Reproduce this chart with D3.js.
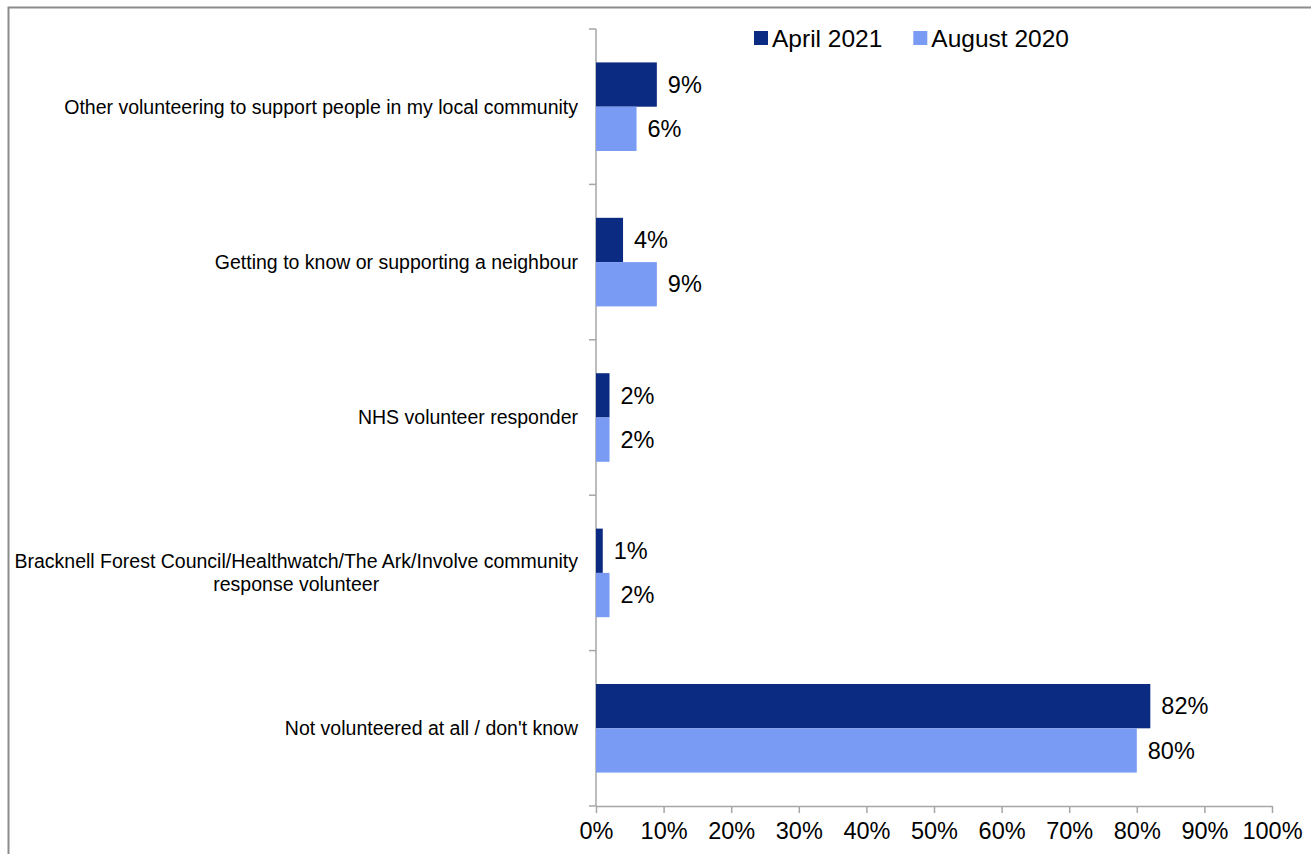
<!DOCTYPE html>
<html>
<head>
<meta charset="utf-8">
<script src="https://cdn.jsdelivr.net/npm/d3@7"></script>
<style>
  html, body { margin: 0; padding: 0; background: #fff; }
  svg { display: block; font-family: "Liberation Sans", Arial, sans-serif; }
</style>
</head>
<body>
<svg id="chart" width="1311" height="854"></svg>
<script>
// Survey responses: type of volunteering done
const categories = [
  ["Other volunteering to support people in my local community"],
  ["Getting to know or supporting a neighbour"],
  ["NHS volunteer responder"],
  ["Bracknell Forest Council/Healthwatch/The Ark/Involve community", "response volunteer"],
  ["Not volunteered at all / don't know"]
];
const seriesNames = ["April 2021", "August 2020"];
const april2021 = [9, 4, 2, 1, 82];
const august2020 = [6, 9, 2, 2, 80];
const xTicks = [0, 10, 20, 30, 40, 50, 60, 70, 80, 90, 100];
const colors = ["#0b2a82", "#7a9bf3"];

const svg = d3.select("#chart");
const plotLeft = 596, plotRight = 1272, plotTop = 29, plotBottom = 806;
const bigFont = 23.5, labelFont = 19.5, legendFont = 24.5;

// outer frame
svg.append("rect")
  .attr("x", 8.5).attr("y", 7.5)
  .attr("width", 1320).attr("height", 880)
  .attr("fill", "none").attr("stroke", "#8c8c8c").attr("stroke-width", 2);

const x = d3.scaleLinear().domain([0, 100]).range([plotLeft, plotRight]);
const y = d3.scaleBand().domain(d3.range(categories.length)).range([plotTop, plotBottom])
  .paddingInner(0.43).paddingOuter(0.215);
const ySub = d3.scaleBand().domain(d3.range(seriesNames.length)).range([0, y.bandwidth()]);

// x axis
const xAxis = svg.append("g").attr("transform", `translate(0,${plotBottom})`)
  .call(d3.axisBottom(x).tickValues(xTicks).tickFormat(d => d + "%").tickSize(7).tickSizeOuter(0).tickPadding(9));
xAxis.select(".domain").attr("stroke", "#a6a6a6").attr("stroke-width", 1.5);
xAxis.selectAll(".tick line").attr("stroke", "#a6a6a6").attr("stroke-width", 1.5);
xAxis.selectAll(".tick text").attr("font-size", bigFont).attr("fill", "#000")
  .attr("font-family", "'Liberation Sans', Arial, sans-serif");

// y axis: ticks at band boundaries
const step = y.step();
const boundaries = d3.range(categories.length + 1).map(i => plotTop + i * step);
svg.append("line").attr("x1", plotLeft).attr("x2", plotLeft).attr("y1", plotTop).attr("y2", plotBottom)
  .attr("stroke", "#a6a6a6").attr("stroke-width", 1.5);
svg.selectAll(".ytick").data(boundaries).join("line")
  .attr("class", "ytick")
  .attr("x1", plotLeft - 7).attr("x2", plotLeft).attr("y1", d => d).attr("y2", d => d)
  .attr("stroke", "#a6a6a6").attr("stroke-width", 1.5);

// category labels
const labelX = 578;
categories.forEach((lines, i) => {
  const cy = plotTop + (i + 0.5) * step;
  const t = svg.append("text")
    .attr("font-size", labelFont).attr("fill", "#000");
  if (lines.length === 1) {
    t.attr("x", labelX).attr("y", cy).attr("text-anchor", "end").attr("dy", "0.35em").text(lines[0]);
  } else {
    // two-line label: lines centred on each other, right edge aligned
    t.attr("text-anchor", "end").attr("x", labelX).attr("y", cy - 11.5).attr("dy", "0.35em").text(lines[0]);
    const w = t.node().getComputedTextLength();
    svg.append("text").attr("font-size", labelFont).attr("fill", "#000")
      .attr("text-anchor", "middle").attr("x", labelX - w / 2).attr("y", cy + 11.5)
      .attr("dy", "0.35em").text(lines[1]);
  }
});

// bars
const seriesData = [april2021, august2020];
seriesData.forEach((vals, s) => {
  const g = svg.append("g");
  g.selectAll("rect").data(vals).join("rect")
    .attr("x", x(0))
    .attr("y", (d, i) => y(i) + ySub(s))
    .attr("width", d => x(d) - x(0))
    .attr("height", ySub.bandwidth())
    .attr("fill", colors[s]);
  g.selectAll("text").data(vals).join("text")
    .attr("x", d => x(d) + 11)
    .attr("y", (d, i) => y(i) + ySub(s) + ySub.bandwidth() / 2)
    .attr("dy", "0.35em")
    .attr("font-size", bigFont).attr("fill", "#000")
    .text(d => d + "%");
});

// legend
const legend = svg.append("g").attr("transform", "translate(754,38)");
let lx = 0;
seriesNames.forEach((name, i) => {
  const item = legend.append("g").attr("transform", `translate(${lx},0)`);
  item.append("rect").attr("x", 0).attr("y", -7).attr("width", 14).attr("height", 14).attr("fill", colors[i]);
  const t = item.append("text").attr("x", 18).attr("y", 0).attr("dy", "0.35em")
    .attr("font-size", legendFont).attr("fill", "#000").text(name);
  lx += 18 + t.node().getComputedTextLength() + 31;
});
</script>
</body>
</html>
